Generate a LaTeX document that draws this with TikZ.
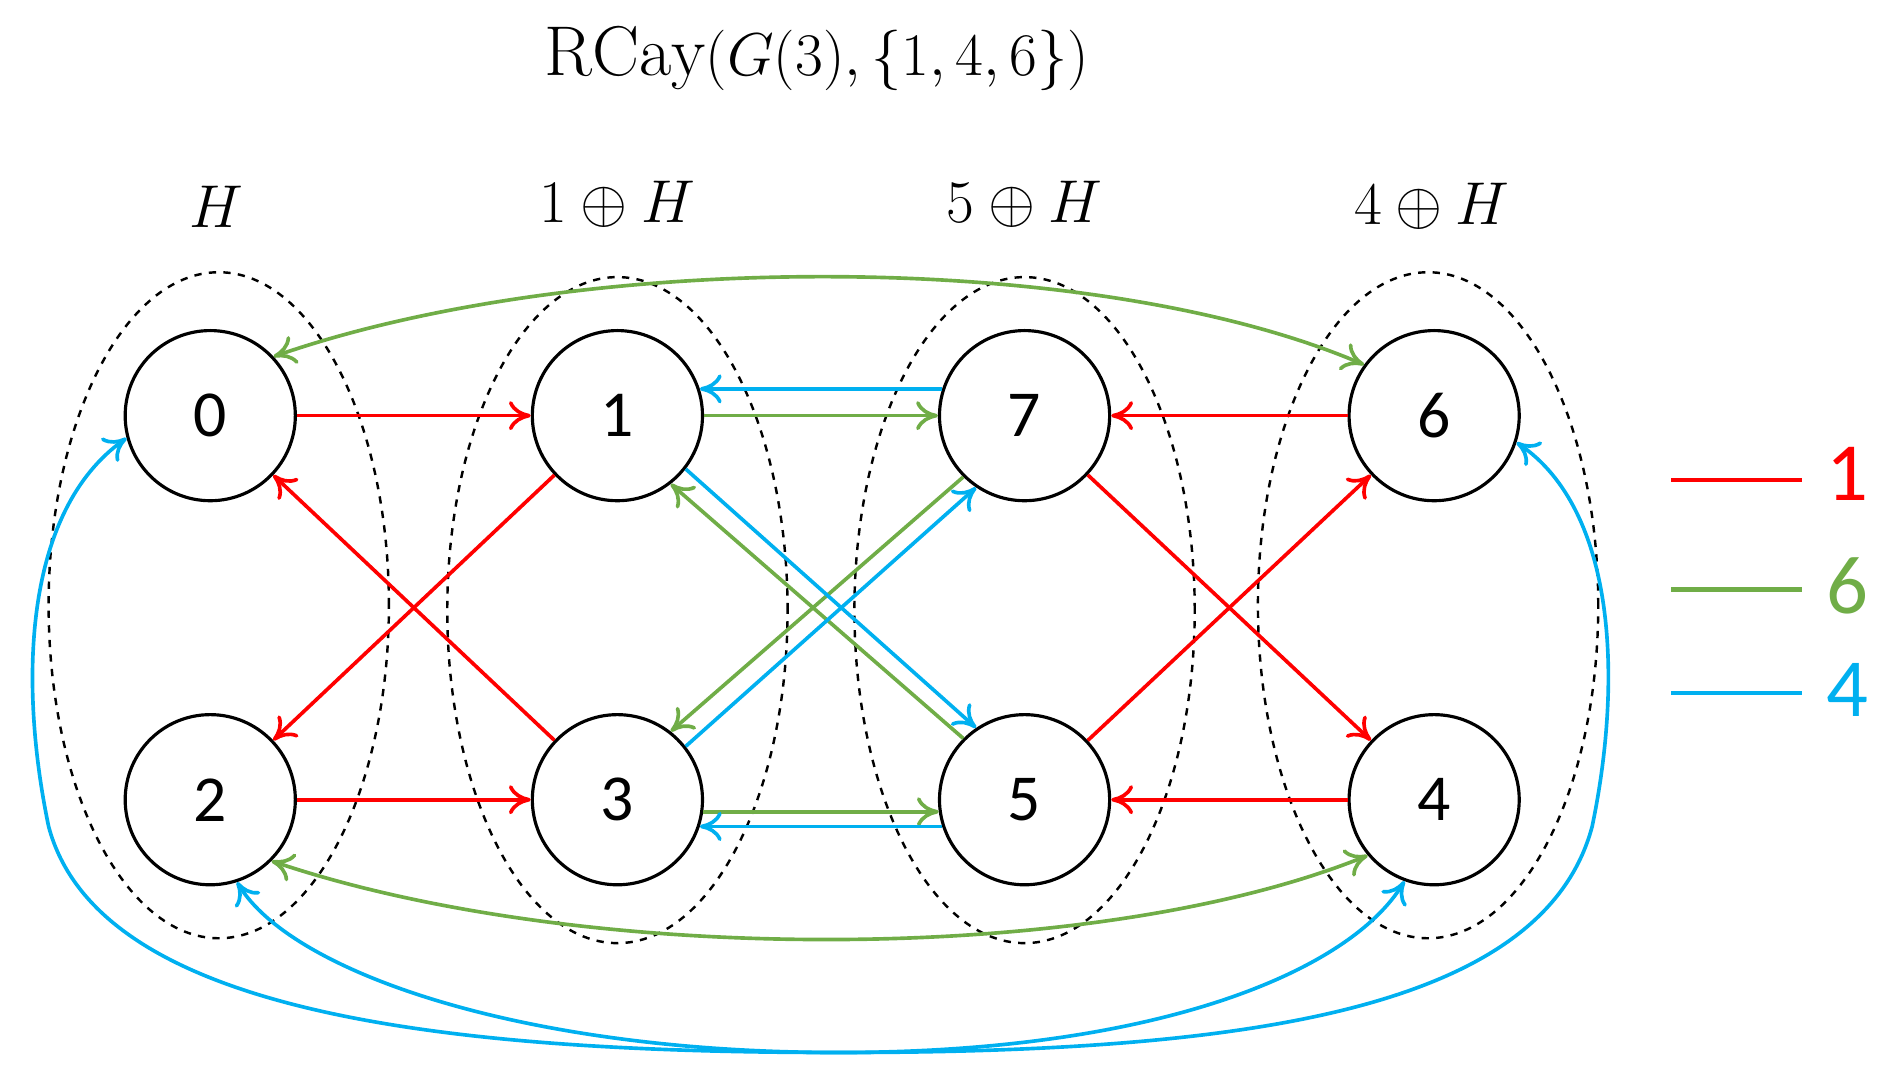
\documentclass[tikz,border=0pt]{standalone}
\usepackage{fontspec}
\usetikzlibrary{arrows.meta,shapes.geometric}
\newfontfamily\carl{Carlito}
\definecolor{cr}{RGB}{255,0,0}
\definecolor{cg}{RGB}{112,173,71}
\definecolor{cb}{RGB}{0,176,240}
\begin{document}
\begin{tikzpicture}[x=0.5pt,y=-0.5pt,
  v/.style={circle,draw,line width=1.3pt,minimum size=70pt,inner sep=0pt,font=\carl\fontsize{27}{30}\selectfont},
  e/.style={line width=1.5pt,-{To[length=9pt,width=12pt]}},
  ee/.style={line width=1.5pt,{To[length=9pt,width=12pt]}-{To[length=9pt,width=12pt]}},
  grp/.style={draw,dashed,line width=1pt,ellipse,minimum width=140pt,minimum height=274pt},
  lab/.style={font=\fontsize{29}{32}\selectfont},
  leg/.style={font=\carl\fontsize{34}{38}\selectfont}]
\useasboundingbox (0,0) rectangle (1560,886);
\node[lab] (title) at (672,48) {$\mathrm{RCay}(G(3),\{1,4,6\})$};
\node[lab] (l0) at (178,170) {$H$};
\node[lab] (l1) at (508,168) {$1\oplus H$};
\node[lab] (l2) at (843,168) {$5\oplus H$};
\node[lab] (l3) at (1178,170) {$4\oplus H$};
\node[grp] (g0) at (180,498) {};
\node[grp] (g1) at (508,502) {};
\node[grp] (g2) at (843,502) {};
\node[grp] (g3) at (1175,498) {};
\node[v] (n0) at (173,342) {0};
\node[v] (n1) at (508,342) {1};
\node[v] (n7) at (843,342) {7};
\node[v] (n6) at (1180,342) {6};
\node[v] (n2) at (173,658) {2};
\node[v] (n3) at (508,658) {3};
\node[v] (n5) at (843,658) {5};
\node[v] (n4) at (1180,658) {4};
% red
\begin{scope}[cr]
\draw[e] (n0) -- (n1);
\draw[e] (n2) -- (n3);
\draw[e] (n6) -- (n7);
\draw[e] (n4) -- (n5);
\draw[e] (n1) -- (n2);
\draw[e] (n3) -- (n0);
\draw[e] (n7) -- (n4);
\draw[e] (n5) -- (n6);
\end{scope}
% green
\begin{scope}[cg]
\draw[e] (n1) -- (n7);
\draw[e] (n3.-8) -- (n5.-172);
\draw[e] (n7.-135) -- (n3.52);
\draw[e] (n5.135) -- (n1.-52);
\draw[ee] (n0.43) .. controls (480,205) and (900,205) .. (n6.144);
\draw[ee] (n2.-45) .. controls (480,795) and (900,795) .. (n4.-140);
\end{scope}
% blue
\begin{scope}[cb]
\draw[e] (n7.162) -- (n1.18);
\draw[e] (n5.-162) -- (n3.-18);
\draw[e] (n3.38) -- (n7.-124);
\draw[e] (n1.-38) -- (n5.124);
\coordinate (b1) at (690,866);
\coordinate (bl) at (40,680);
\coordinate (br) at (1310,680);
\draw[ee] (n0.-165) .. controls (20,420) and (15,560) .. (bl) .. controls (80,830) and (350,866) .. (b1) .. controls (950,866) and (1110,800) .. (n4.-110);
\draw[ee] (n6.-18) .. controls (1330,420) and (1335,560) .. (br) .. controls (1270,830) and (1030,866) .. (b1) .. controls (430,866) and (240,800) .. (n2.-72);
\end{scope}
% legend
\coordinate (r1) at (1375,395); \coordinate (r2) at (1483,395);
\coordinate (g1a) at (1375,485); \coordinate (g2a) at (1483,485);
\coordinate (b1a) at (1375,570); \coordinate (b2a) at (1483,570);
\draw[cr,line width=1.8pt] (r1) -- (r2);
\draw[cg,line width=1.8pt] (g1a) -- (g2a);
\draw[cb,line width=1.8pt] (b1a) -- (b2a);
\node[leg,text=cr] (t1) at (1520,390) {1};
\node[leg,text=cg] (t6) at (1520,482) {6};
\node[leg,text=cb] (t4) at (1520,568) {4};
\end{tikzpicture}
\end{document}
